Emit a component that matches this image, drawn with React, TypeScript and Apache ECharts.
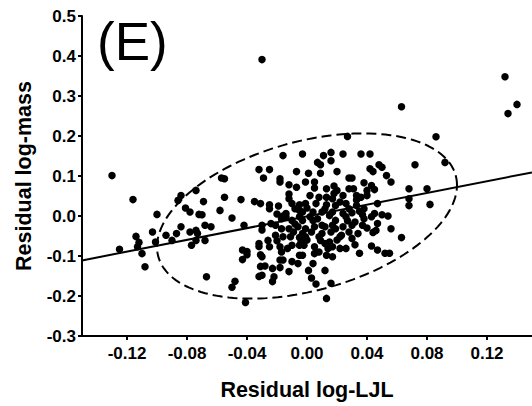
import React, { useEffect, useRef } from "react";
import * as echarts from "echarts";

// Residual log-LJL (x) vs residual log-mass (y)
const scatterPoints: [number, number][] = [
  // outliers and right side
  [-0.030, 0.391], [-0.130, 0.101], [0.132, 0.348], [0.140, 0.279], [0.134, 0.256],
  [0.063, 0.273], [0.086, 0.198], [0.027, 0.199], [0.072, 0.128], [0.092, 0.134],
  [0.068, 0.068], [0.080, 0.068], [0.068, 0.043], [0.068, 0.026], [0.082, 0.029],
  [0.063, -0.054], [0.056, 0.085], [0.056, -0.032], [0.044, -0.041], [0.032, -0.072],
  [0.035, -0.093], [0.043, -0.075], [0.047, -0.085], [0.052, -0.093], [0.055, -0.093],
  [0.012, -0.136], [0.016, -0.168], [0.013, -0.206], [0.003, -0.155], [0.006, -0.170],
  [0.001, -0.136], [-0.012, -0.139], [0.004, -0.119],
  // upper right cluster
  [-0.003, 0.155], [0.011, 0.151], [0.016, 0.159], [0.016, 0.138], [0.007, 0.134],
  [0.009, 0.128], [0.024, 0.155], [0.036, 0.155], [0.042, 0.155], [0.001, 0.107],
  [0.009, 0.107], [0.020, 0.111], [0.028, 0.095], [0.030, 0.095], [0.042, 0.118],
  [0.044, 0.111], [0.048, 0.128], [0.050, 0.122], [0.053, 0.101], [-0.001, 0.085],
  [0.005, 0.085], [0.005, 0.070], [0.013, 0.068], [0.018, 0.075], [0.020, 0.064],
  [0.028, 0.068], [0.031, 0.068], [0.038, 0.083], [0.040, 0.064], [0.043, 0.076],
  [0.045, 0.066], [0.002, 0.051], [0.008, 0.047], [0.013, 0.047], [0.017, 0.043],
  [0.024, 0.051], [0.033, 0.051], [0.036, 0.047], [0.040, 0.051], [-0.001, 0.031],
  [0.006, 0.031], [0.013, 0.028], [0.019, 0.026], [0.026, 0.031], [0.033, 0.026],
  [0.038, 0.018], [0.047, 0.031], [-0.003, 0.010], [0.004, 0.010], [0.010, 0.010],
  [0.017, 0.010], [0.024, 0.006], [0.030, 0.008], [0.037, 0.003], [0.045, 0.006],
  [0.050, 0.003], [0.054, 0.000],
  // upper left / middle
  [-0.057, 0.095], [-0.055, 0.093], [-0.016, 0.151], [-0.032, 0.116], [-0.025, 0.116],
  [-0.029, 0.095], [-0.018, 0.093], [-0.018, 0.085], [-0.007, 0.111], [-0.012, 0.078],
  [-0.007, 0.072], [-0.069, 0.036], [-0.055, 0.047], [-0.044, 0.041], [-0.035, 0.036],
  [-0.031, 0.031], [-0.025, 0.028], [-0.019, 0.025], [-0.012, 0.055], [-0.012, 0.043],
  [-0.010, 0.031], [-0.005, 0.028], [-0.008, 0.018], [-0.014, 0.006], [-0.016, 0.000],
  [-0.058, 0.014], [-0.070, 0.003], [-0.050, -0.005],
  // left
  [-0.074, 0.064], [-0.084, 0.051], [-0.086, 0.039], [-0.116, 0.041], [-0.100, 0.004],
  [-0.081, 0.020], [-0.078, 0.010], [-0.072, 0.004], [-0.103, -0.040], [-0.094, -0.048],
  [-0.087, -0.044], [-0.084, -0.027], [-0.078, -0.040], [-0.074, -0.036], [-0.073, -0.044],
  [-0.068, -0.023], [-0.064, -0.027], [-0.042, -0.023], [-0.101, -0.065], [-0.090, -0.061],
  [-0.077, -0.073], [-0.068, -0.061], [-0.114, -0.051], [-0.112, -0.066], [-0.113, -0.077],
  [-0.110, -0.094], [-0.125, -0.083], [-0.108, -0.127], [-0.067, -0.152], [-0.074, -0.061],
  // lower left / middle
  [-0.050, -0.178], [-0.048, -0.163], [-0.041, -0.216], [-0.043, -0.085], [-0.040, -0.089],
  [-0.043, -0.109], [-0.040, -0.097], [-0.032, -0.076], [-0.031, -0.097], [-0.030, -0.102],
  [-0.032, -0.151], [-0.031, -0.126], [-0.030, -0.035],
  [-0.030, -0.023], [-0.024, -0.019], [-0.017, -0.007], [-0.014, -0.002], [-0.010, -0.011],
  [-0.005, -0.002], [-0.017, -0.032], [-0.012, -0.032], [-0.006, -0.027], [-0.001, -0.032],
  [-0.021, -0.048], [-0.016, -0.052], [-0.011, -0.052], [-0.005, -0.054], [-0.001, -0.052],
  [-0.026, -0.061], [-0.032, -0.069], [-0.025, -0.077], [-0.018, -0.077], [-0.013, -0.081],
  [-0.005, -0.073], [-0.017, -0.090], [-0.005, -0.098], [-0.003, -0.098], [-0.018, -0.110],
  [-0.016, -0.110], [-0.010, -0.114], [-0.006, -0.119], [-0.028, -0.125], [-0.023, -0.131],
  [-0.018, -0.129], [-0.022, -0.152], [-0.030, -0.148], [-0.023, -0.164],
  // lower right of centre
  [-0.003, -0.011], [0.002, -0.002], [0.007, -0.007], [0.015, 0.001], [0.019, -0.011],
  [0.026, -0.002], [0.032, -0.015], [0.038, -0.007], [0.043, -0.002], [0.005, -0.027],
  [0.012, -0.027], [0.017, -0.023], [0.024, -0.027], [0.030, -0.023], [0.037, -0.023],
  [0.047, -0.019], [-0.003, -0.044], [0.003, -0.040], [0.010, -0.044], [0.016, -0.040],
  [0.028, -0.040], [0.034, -0.044], [0.046, -0.036], [-0.004, -0.065], [0.009, -0.061],
  [0.015, -0.065], [0.022, -0.052], [-0.002, -0.073], [0.005, -0.077], [0.012, -0.069],
  [0.017, -0.077], [0.022, -0.081], [0.008, -0.090], [0.013, -0.098], [0.017, -0.102],
  // dense centre fill
  [0.022, 0.035], [-0.005, 0.014], [-0.021, -0.023], [0.004, -0.011], [0.010, -0.023],
  [0.019, -0.032], [0.023, -0.048], [0.030, -0.056], [-0.010, -0.073], [0.014, -0.081],
  [0.026, -0.081], [0.005, -0.094], [-0.025, 0.018], [-0.020, 0.005], [0.000, 0.020],
  [0.012, 0.018], [0.028, 0.018], [0.035, 0.012], [-0.008, -0.020], [0.000, -0.060],
  [0.020, -0.060], [-0.020, -0.062], [0.040, -0.030], [0.008, -0.052], [-0.009, -0.040],
  [0.027, -0.012], [0.033, 0.040], [0.018, 0.056],
];

// Regression line end points
const fitLine: [number, number][] = [
  [-0.15, -0.111],
  [0.15, 0.109],
];

// Confidence ellipse parameters (centre, standard deviations, correlation)
const ellipseCenter: [number, number] = [0, 0];
const ellipseSD: [number, number] = [0.1, 0.2065];
const ellipseRho = 0.373;

const xTicks = [-0.12, -0.08, -0.04, 0, 0.04, 0.08, 0.12];
const yTicks = [-0.3, -0.2, -0.1, 0, 0.1, 0.2, 0.3, 0.4, 0.5];

const panelLabel = "(E)";
const xTitle = "Residual log-LJL";
const yTitle = "Residual log-mass";

const FONT = "'Liberation Sans', Arial, Helvetica, sans-serif";

function ellipsePoints(n: number): [number, number][] {
  const pts: [number, number][] = [];
  const s = Math.sqrt(1 - ellipseRho * ellipseRho);
  for (let i = 0; i <= n; i++) {
    const t = (2 * Math.PI * i) / n;
    pts.push([
      ellipseCenter[0] + ellipseSD[0] * Math.cos(t),
      ellipseCenter[1] + ellipseSD[1] * (ellipseRho * Math.cos(t) + s * Math.sin(t)),
    ]);
  }
  return pts;
}

export default function App() {
  const ref = useRef<HTMLDivElement>(null);
  useEffect(() => {
    if (!ref.current) return;
    const chart = echarts.init(ref.current, null, { renderer: "svg" });
    const axisCommon = {
      axisLine: { show: true, onZero: false, lineStyle: { color: "#000", width: 2 } },
      axisTick: { show: true, inside: false, length: 4, lineStyle: { color: "#000", width: 2 } },
      splitLine: { show: false },
      nameLocation: "middle" as const,
      nameTextStyle: { fontFamily: FONT, fontSize: 21.5, fontWeight: "bold", color: "#000" },
    };
    chart.setOption({
      animation: false,
      backgroundColor: "#fff",
      grid: { left: 82, right: 0, top: 16, bottom: 68, containLabel: false },
      xAxis: {
        type: "value",
        min: -0.15,
        max: 0.15,
        name: xTitle,
        nameGap: 43,
        ...axisCommon,
        axisTick: { ...axisCommon.axisTick, customValues: xTicks },
        axisLabel: {
          customValues: xTicks,
          margin: 9,
          fontFamily: FONT,
          fontSize: 17,
          fontWeight: "bold",
          color: "#000",
          formatter: (v: number) => (Math.abs(v) < 1e-9 ? "0.00" : v.toFixed(2)),
        },
      },
      yAxis: {
        type: "value",
        min: -0.3,
        max: 0.5,
        name: yTitle,
        nameGap: 47,
        ...axisCommon,
        axisTick: { ...axisCommon.axisTick, customValues: yTicks },
        axisLabel: {
          customValues: yTicks,
          margin: 6,
          fontFamily: FONT,
          fontSize: 17,
          fontWeight: "bold",
          color: "#000",
          formatter: (v: number) => (Math.abs(v) < 1e-9 ? "0.0" : v.toFixed(1)),
        },
      },
      graphic: [
        {
          type: "text",
          left: 97,
          top: 15,
          style: {
            text: panelLabel,
            fontFamily: FONT,
            fontSize: 53,
            fontWeight: "normal",
            fill: "#000",
          },
        },
      ],
      series: [
        {
          type: "scatter",
          data: scatterPoints,
          symbol: "circle",
          symbolSize: 7.5,
          itemStyle: { color: "#000", opacity: 1 },
          silent: true,
        },
        {
          type: "line",
          data: fitLine,
          showSymbol: false,
          symbol: "none",
          lineStyle: { color: "#000", width: 2 },
          silent: true,
        },
        {
          type: "line",
          data: ellipsePoints(160),
          showSymbol: false,
          symbol: "none",
          smooth: false,
          lineStyle: { color: "#000", width: 2, type: [10, 5] },
          silent: true,
        },
      ],
    });
    return () => chart.dispose();
  }, []);
  return (
    <div
      ref={ref}
      style={{ position: "fixed", left: 0, top: 0, width: 532, height: 406, background: "#fff" }}
    />
  );
}
